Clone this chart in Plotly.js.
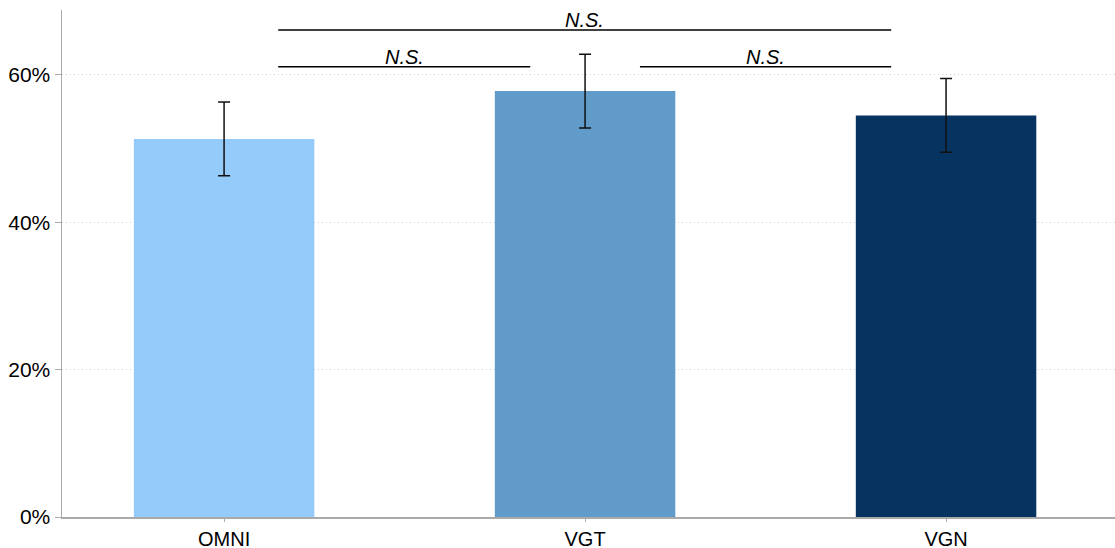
<!DOCTYPE html>
<html><head><meta charset="utf-8">
<script src="https://cdn.plot.ly/plotly-3.0.1.min.js"></script>
<style>html,body{margin:0;padding:0;background:#fff}#c{width:1115px;height:548px}</style>
</head><body><div id="c"></div>
<script>
const categories = ["OMNI", "VGT", "VGN"];
const values = [0.513, 0.578, 0.545];
const errors = [0.050, 0.050, 0.050];
const colors = ["#94CBFA", "#619BCA", "#073361"];
const brackets = [
  {x0: 0.15, x1: 1.848, y: 0.661, label: "N.S."},
  {x0: 0.15, x1: 0.848, y: 0.611, label: "N.S."},
  {x0: 1.152, x1: 1.848, y: 0.611, label: "N.S."}
];
const yTicks = [0, 0.2, 0.4, 0.6];
const yTickText = ["0%", "20%", "40%", "60%"];

const FONT = "Liberation Sans, Arial, sans-serif";
const trace = {
  type: "bar", x: categories, y: values, width: 0.5,
  marker: {color: colors},
  error_y: {type: "data", array: errors, visible: true, color: "#111", thickness: 1.5, width: 6},
  hoverinfo: "none"
};
const shapes = brackets.map(b => ({type: "line", xref: "x", yref: "y", x0: b.x0, x1: b.x1, y0: b.y, y1: b.y, line: {color: "#000", width: 1.5}}));
const annotations = brackets.map(b => ({xref: "x", yref: "y", x: (b.x0 + b.x1) / 2, y: b.y, yanchor: "bottom", yshift: -3, text: "<i>" + b.label + "</i>", showarrow: false, font: {family: FONT, size: 20, color: "#000"}}));

Plotly.newPlot("c", [trace], {
  width: 1115, height: 548,
  margin: {l: 62, r: 0, t: 10, b: 31, pad: 0},
  paper_bgcolor: "#fff", plot_bgcolor: "#fff",
  showlegend: false,
  font: {family: FONT, color: "#000", size: 20},
  xaxis: {type: "category", range: [-0.449, 2.468], showline: true, linecolor: "#aaa", linewidth: 1.5,
    ticks: "outside", ticklen: 3, tickcolor: "#aaa", tickfont: {family: FONT, size: 20, color: "#000"}, showgrid: false, zeroline: false, fixedrange: true},
  yaxis: {range: [0, 0.688], tickvals: yTicks, ticktext: yTickText, showline: true, linecolor: "#aaa", linewidth: 1.5,
    ticks: "outside", ticklen: 6, tickcolor: "#aaa", tickfont: {family: FONT, size: 21, color: "#000"}, showgrid: true, gridcolor: "#cfcfcf", griddash: "1px,3px", gridwidth: 1,
    zeroline: false, fixedrange: true},
  shapes: shapes, annotations: annotations
}, {displayModeBar: false, staticPlot: true});
</script></body></html>
